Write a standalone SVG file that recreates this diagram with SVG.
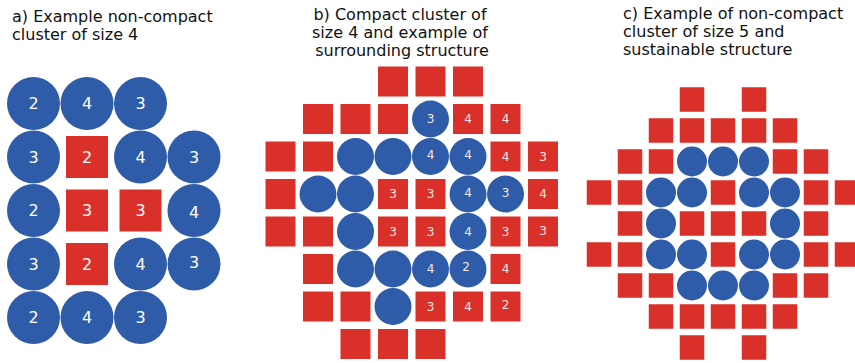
<svg xmlns="http://www.w3.org/2000/svg" width="855" height="363" viewBox="0 0 855 363">
<style>
.bg{fill:#ffffff}
.ca{fill:#2e5ca8}
.sq{fill:#d9302a}
.ttl{font-family:"DejaVu Sans",Verdana,sans-serif;font-size:16px;fill:#111}
.la{font-family:"DejaVu Sans",Verdana,sans-serif;font-size:16px;fill:#ffffff;text-anchor:middle}
.lb{font-family:"DejaVu Sans",Verdana,sans-serif;font-size:12px;fill:#f6e6e3;text-anchor:middle}
</style>
<rect class="bg" x="0" y="0" width="855" height="363"/>
<g id="titles">
<text class="ttl" x="12" y="22">a) Example non-compact</text>
<text class="ttl" x="12" y="40">cluster of size 4</text>
<text class="ttl" x="400" y="20" text-anchor="middle">b) Compact cluster of</text>
<text class="ttl" x="400" y="38" text-anchor="middle">size 4 and example of</text>
<text class="ttl" x="402" y="56" text-anchor="middle">surrounding structure</text>
<text class="ttl" x="623" y="19">c) Example of non-compact</text>
<text class="ttl" x="623" y="37">cluster of size 5 and</text>
<text class="ttl" x="623" y="55">sustainable structure</text>
</g>
<g id="panel-a">
<g id="a-r0c0"><circle class="ca" cx="33.5" cy="103.5" r="26.5"/><text class="la" x="33.5" y="109">2</text></g>
<g id="a-r0c1"><circle class="ca" cx="87" cy="103.5" r="26.5"/><text class="la" x="87" y="109">4</text></g>
<g id="a-r0c2"><circle class="ca" cx="140.5" cy="103.5" r="26.5"/><text class="la" x="140.5" y="109">3</text></g>
<g id="a-r1c0"><circle class="ca" cx="33.5" cy="157" r="26.5"/><text class="la" x="33.5" y="162.5">3</text></g>
<g id="a-r1c1"><rect class="sq" x="66" y="136" width="42" height="42"/><text class="la" x="87" y="162.5">2</text></g>
<g id="a-r1c2"><circle class="ca" cx="140.5" cy="157" r="26.5"/><text class="la" x="140.5" y="162.5">4</text></g>
<g id="a-r1c3"><circle class="ca" cx="194" cy="157" r="26.5"/><text class="la" x="194" y="162.5">3</text></g>
<g id="a-r2c0"><circle class="ca" cx="33.5" cy="210.5" r="26.5"/><text class="la" x="33.5" y="216">2</text></g>
<g id="a-r2c1"><rect class="sq" x="66" y="189.5" width="42" height="42"/><text class="la" x="87" y="216">3</text></g>
<g id="a-r2c2"><rect class="sq" x="119.5" y="189.5" width="42" height="42"/><text class="la" x="140.5" y="216">3</text></g>
<g id="a-r2c3"><circle class="ca" cx="194" cy="210.5" r="26.5"/><text class="la" x="194" y="218">4</text></g>
<g id="a-r3c0"><circle class="ca" cx="33.5" cy="264" r="26.5"/><text class="la" x="33.5" y="269.5">3</text></g>
<g id="a-r3c1"><rect class="sq" x="66" y="243" width="42" height="42"/><text class="la" x="87" y="269.5">2</text></g>
<g id="a-r3c2"><circle class="ca" cx="140.5" cy="264" r="26.5"/><text class="la" x="140.5" y="269.5">4</text></g>
<g id="a-r3c3"><circle class="ca" cx="194" cy="264" r="26.5"/><text class="la" x="194" y="267.5">3</text></g>
<g id="a-r4c0"><circle class="ca" cx="33.5" cy="317.5" r="26.5"/><text class="la" x="33.5" y="323">2</text></g>
<g id="a-r4c1"><circle class="ca" cx="87" cy="317.5" r="26.5"/><text class="la" x="87" y="323">4</text></g>
<g id="a-r4c2"><circle class="ca" cx="140.5" cy="317.5" r="26.5"/><text class="la" x="140.5" y="323">3</text></g>
</g>
<g id="panel-b">
<g id="b-r0c3"><rect class="sq" x="378" y="66.5" width="30" height="30"/></g>
<g id="b-r0c4"><rect class="sq" x="415.5" y="66.5" width="30" height="30"/></g>
<g id="b-r0c5"><rect class="sq" x="453" y="66.5" width="30" height="30"/></g>
<g id="b-r1c1"><rect class="sq" x="303" y="104" width="30" height="30"/></g>
<g id="b-r1c2"><rect class="sq" x="340.5" y="104" width="30" height="30"/></g>
<g id="b-r1c3"><rect class="sq" x="378" y="104" width="30" height="30"/></g>
<g id="b-r1c4"><circle class="ca" cx="430.5" cy="119" r="18.5"/><text class="lb" x="430.5" y="123.4">3</text></g>
<g id="b-r1c5"><rect class="sq" x="453" y="104" width="30" height="30"/><text class="lb" x="468" y="123.4">4</text></g>
<g id="b-r1c6"><rect class="sq" x="490.5" y="104" width="30" height="30"/><text class="lb" x="505.5" y="123.4">4</text></g>
<g id="b-r2c0"><rect class="sq" x="265.5" y="141.5" width="30" height="30"/></g>
<g id="b-r2c1"><rect class="sq" x="303" y="141.5" width="30" height="30"/></g>
<g id="b-r2c2"><circle class="ca" cx="355.5" cy="156.5" r="18.5"/></g>
<g id="b-r2c3"><circle class="ca" cx="393" cy="156.5" r="18.5"/></g>
<g id="b-r2c4"><circle class="ca" cx="430.5" cy="156.5" r="18.5"/><text class="lb" x="430.5" y="159">4</text></g>
<g id="b-r2c5"><circle class="ca" cx="468" cy="156.5" r="18.5"/><text class="lb" x="468" y="159">4</text></g>
<g id="b-r2c6"><rect class="sq" x="490.5" y="141.5" width="30" height="30"/><text class="lb" x="505.5" y="160.9">4</text></g>
<g id="b-r2c7"><rect class="sq" x="528" y="141.5" width="30" height="30"/><text class="lb" x="543" y="160.9">3</text></g>
<g id="b-r3c0"><rect class="sq" x="265.5" y="179" width="30" height="30"/></g>
<g id="b-r3c1"><circle class="ca" cx="318" cy="194" r="18.5"/></g>
<g id="b-r3c2"><circle class="ca" cx="355.5" cy="194" r="18.5"/></g>
<g id="b-r3c3"><rect class="sq" x="378" y="179" width="30" height="30"/><text class="lb" x="393" y="198.4">3</text></g>
<g id="b-r3c4"><rect class="sq" x="415.5" y="179" width="30" height="30"/><text class="lb" x="430.5" y="198.4">3</text></g>
<g id="b-r3c5"><circle class="ca" cx="468" cy="194" r="18.5"/><text class="lb" x="468" y="197">4</text></g>
<g id="b-r3c6"><circle class="ca" cx="505.5" cy="194" r="18.5"/><text class="lb" x="505.5" y="197">3</text></g>
<g id="b-r3c7"><rect class="sq" x="528" y="179" width="30" height="30"/><text class="lb" x="543" y="198.4">4</text></g>
<g id="b-r4c0"><rect class="sq" x="265.5" y="216.5" width="30" height="30"/></g>
<g id="b-r4c1"><rect class="sq" x="303" y="216.5" width="30" height="30"/></g>
<g id="b-r4c2"><circle class="ca" cx="355.5" cy="231.5" r="18.5"/></g>
<g id="b-r4c3"><rect class="sq" x="378" y="216.5" width="30" height="30"/><text class="lb" x="393" y="235.9">3</text></g>
<g id="b-r4c4"><rect class="sq" x="415.5" y="216.5" width="30" height="30"/><text class="lb" x="430.5" y="235.9">3</text></g>
<g id="b-r4c5"><circle class="ca" cx="468" cy="231.5" r="18.5"/><text class="lb" x="468" y="235.9">4</text></g>
<g id="b-r4c6"><rect class="sq" x="490.5" y="216.5" width="30" height="30"/><text class="lb" x="505.5" y="235.9">3</text></g>
<g id="b-r4c7"><rect class="sq" x="528" y="216.5" width="30" height="30"/><text class="lb" x="543" y="234.5">3</text></g>
<g id="b-r5c1"><rect class="sq" x="303" y="254" width="30" height="30"/></g>
<g id="b-r5c2"><circle class="ca" cx="355.5" cy="269" r="18.5"/></g>
<g id="b-r5c3"><circle class="ca" cx="393" cy="269" r="18.5"/></g>
<g id="b-r5c4"><circle class="ca" cx="430.5" cy="269" r="18.5"/><text class="lb" x="430.5" y="273.4">4</text></g>
<g id="b-r5c5"><circle class="ca" cx="468" cy="269" r="18.5"/><text class="lb" x="466" y="271">2</text></g>
<g id="b-r5c6"><rect class="sq" x="490.5" y="254" width="30" height="30"/><text class="lb" x="505.5" y="273.4">4</text></g>
<g id="b-r6c1"><rect class="sq" x="303" y="291.5" width="30" height="30"/></g>
<g id="b-r6c2"><rect class="sq" x="340.5" y="291.5" width="30" height="30"/></g>
<g id="b-r6c3"><circle class="ca" cx="393" cy="306.5" r="18.5"/></g>
<g id="b-r6c4"><rect class="sq" x="415.5" y="291.5" width="30" height="30"/><text class="lb" x="430.5" y="310.9">3</text></g>
<g id="b-r6c5"><rect class="sq" x="453" y="291.5" width="30" height="30"/><text class="lb" x="468" y="310.9">4</text></g>
<g id="b-r6c6"><rect class="sq" x="490.5" y="291.5" width="30" height="30"/><text class="lb" x="505.5" y="309">2</text></g>
<g id="b-r7c2"><rect class="sq" x="340.5" y="329" width="30" height="30"/></g>
<g id="b-r7c3"><rect class="sq" x="378" y="329" width="30" height="30"/></g>
<g id="b-r7c4"><rect class="sq" x="415.5" y="329" width="30" height="30"/></g>
</g>
<g id="panel-c">
<g id="c-r0c3"><rect class="sq" x="679.75" y="87.25" width="24.5" height="24.5"/></g>
<g id="c-r0c5"><rect class="sq" x="741.75" y="87.25" width="24.5" height="24.5"/></g>
<g id="c-r1c2"><rect class="sq" x="648.75" y="118.25" width="24.5" height="24.5"/></g>
<g id="c-r1c3"><rect class="sq" x="679.75" y="118.25" width="24.5" height="24.5"/></g>
<g id="c-r1c4"><rect class="sq" x="710.75" y="118.25" width="24.5" height="24.5"/></g>
<g id="c-r1c5"><rect class="sq" x="741.75" y="118.25" width="24.5" height="24.5"/></g>
<g id="c-r1c6"><rect class="sq" x="772.75" y="118.25" width="24.5" height="24.5"/></g>
<g id="c-r2c1"><rect class="sq" x="617.75" y="149.25" width="24.5" height="24.5"/></g>
<g id="c-r2c2"><rect class="sq" x="648.75" y="149.25" width="24.5" height="24.5"/></g>
<g id="c-r2c3"><circle class="ca" cx="692" cy="161.5" r="15"/></g>
<g id="c-r2c4"><circle class="ca" cx="723" cy="161.5" r="15"/></g>
<g id="c-r2c5"><circle class="ca" cx="754" cy="161.5" r="15"/></g>
<g id="c-r2c6"><rect class="sq" x="772.75" y="149.25" width="24.5" height="24.5"/></g>
<g id="c-r2c7"><rect class="sq" x="803.75" y="149.25" width="24.5" height="24.5"/></g>
<g id="c-r3c0"><rect class="sq" x="586.75" y="180.25" width="24.5" height="24.5"/></g>
<g id="c-r3c1"><rect class="sq" x="617.75" y="180.25" width="24.5" height="24.5"/></g>
<g id="c-r3c2"><circle class="ca" cx="661" cy="192.5" r="15"/></g>
<g id="c-r3c3"><circle class="ca" cx="692" cy="192.5" r="15"/></g>
<g id="c-r3c4"><rect class="sq" x="710.75" y="180.25" width="24.5" height="24.5"/></g>
<g id="c-r3c5"><circle class="ca" cx="754" cy="192.5" r="15"/></g>
<g id="c-r3c6"><circle class="ca" cx="785" cy="192.5" r="15"/></g>
<g id="c-r3c7"><rect class="sq" x="803.75" y="180.25" width="24.5" height="24.5"/></g>
<g id="c-r3c8"><rect class="sq" x="834.75" y="180.25" width="24.5" height="24.5"/></g>
<g id="c-r4c1"><rect class="sq" x="617.75" y="211.25" width="24.5" height="24.5"/></g>
<g id="c-r4c2"><circle class="ca" cx="661" cy="223.5" r="15"/></g>
<g id="c-r4c3"><rect class="sq" x="679.75" y="211.25" width="24.5" height="24.5"/></g>
<g id="c-r4c4"><rect class="sq" x="710.75" y="211.25" width="24.5" height="24.5"/></g>
<g id="c-r4c5"><rect class="sq" x="741.75" y="211.25" width="24.5" height="24.5"/></g>
<g id="c-r4c6"><circle class="ca" cx="785" cy="223.5" r="15"/></g>
<g id="c-r4c7"><rect class="sq" x="803.75" y="211.25" width="24.5" height="24.5"/></g>
<g id="c-r5c0"><rect class="sq" x="586.75" y="242.25" width="24.5" height="24.5"/></g>
<g id="c-r5c1"><rect class="sq" x="617.75" y="242.25" width="24.5" height="24.5"/></g>
<g id="c-r5c2"><circle class="ca" cx="661" cy="254.5" r="15"/></g>
<g id="c-r5c3"><circle class="ca" cx="692" cy="254.5" r="15"/></g>
<g id="c-r5c4"><rect class="sq" x="710.75" y="242.25" width="24.5" height="24.5"/></g>
<g id="c-r5c5"><circle class="ca" cx="754" cy="254.5" r="15"/></g>
<g id="c-r5c6"><circle class="ca" cx="785" cy="254.5" r="15"/></g>
<g id="c-r5c7"><rect class="sq" x="803.75" y="242.25" width="24.5" height="24.5"/></g>
<g id="c-r5c8"><rect class="sq" x="834.75" y="242.25" width="24.5" height="24.5"/></g>
<g id="c-r6c1"><rect class="sq" x="617.75" y="273.25" width="24.5" height="24.5"/></g>
<g id="c-r6c2"><rect class="sq" x="648.75" y="273.25" width="24.5" height="24.5"/></g>
<g id="c-r6c3"><circle class="ca" cx="692" cy="285.5" r="15"/></g>
<g id="c-r6c4"><circle class="ca" cx="723" cy="285.5" r="15"/></g>
<g id="c-r6c5"><circle class="ca" cx="754" cy="285.5" r="15"/></g>
<g id="c-r6c6"><rect class="sq" x="772.75" y="273.25" width="24.5" height="24.5"/></g>
<g id="c-r6c7"><rect class="sq" x="803.75" y="273.25" width="24.5" height="24.5"/></g>
<g id="c-r7c2"><rect class="sq" x="648.75" y="304.25" width="24.5" height="24.5"/></g>
<g id="c-r7c3"><rect class="sq" x="679.75" y="304.25" width="24.5" height="24.5"/></g>
<g id="c-r7c4"><rect class="sq" x="710.75" y="304.25" width="24.5" height="24.5"/></g>
<g id="c-r7c5"><rect class="sq" x="741.75" y="304.25" width="24.5" height="24.5"/></g>
<g id="c-r7c6"><rect class="sq" x="772.75" y="304.25" width="24.5" height="24.5"/></g>
<g id="c-r8c3"><rect class="sq" x="679.75" y="335.25" width="24.5" height="24.5"/></g>
<g id="c-r8c5"><rect class="sq" x="741.75" y="335.25" width="24.5" height="24.5"/></g>
</g>
<g id="connectors"/>
</svg>
